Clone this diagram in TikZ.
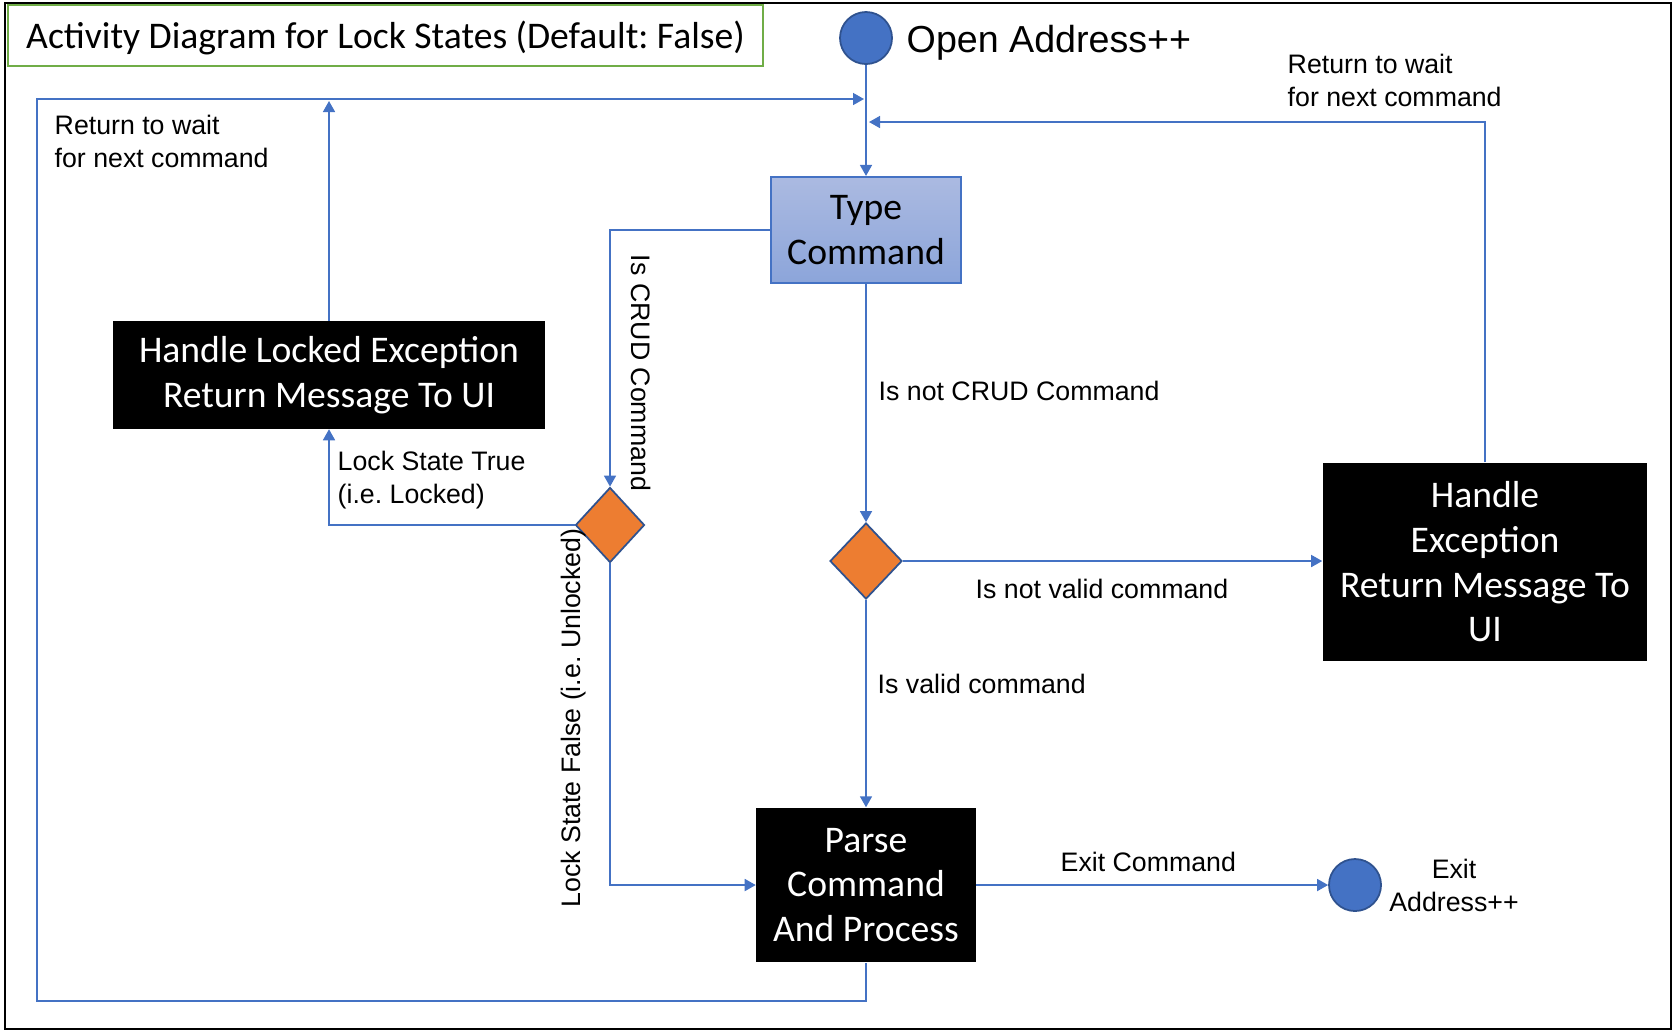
\documentclass[tikz,border=0pt]{standalone}
\usepackage{fontspec}
\setmainfont{Liberation Sans}
\newfontfamily\calibri{Carlito}
\usetikzlibrary{shapes.geometric,arrows.meta}
\definecolor{trait}{HTML}{4472C4}
\definecolor{bord}{HTML}{2F528F}
\definecolor{orange1}{HTML}{ED7D31}
\definecolor{vert1}{HTML}{70AD47}
\definecolor{bleuhaut}{HTML}{ABBAE1}
\definecolor{bleubas}{HTML}{8CA5DA}
\frenchspacing

\begin{document}
\begin{tikzpicture}[x=0.01cm, y=-0.01cm]
\tikzset{boite/.style={fill=black, text=white, inner sep=0pt, align=center, font=\calibri\fontsize{10.7}{12.7}\selectfont},
losange/.style={diamond, draw=bord, fill=orange1, line width=0.5pt, inner sep=0pt, minimum width=0.72cm, minimum height=0.76cm},
rond/.style={circle, draw=bord, fill=trait, line width=0.5pt, inner sep=0pt, minimum size=0.52cm},
etiq/.style={inner sep=0pt, align=left, font=\fontsize{7.6}{9.4}\selectfont},
fleche/.style={draw=trait, line width=0.45pt, -{Triangle[length=0.11cm, width=0.12cm]}}}
\useasboundingbox (0,0) rectangle (1674,1032);
\draw[line width=0.7pt] (5,3) rectangle (1671,1029);
\node[draw=vert1, line width=0.6pt, minimum width=7.55cm, minimum height=0.61cm, inner sep=0pt, text height=0.28cm, text depth=0.03cm, font=\calibri\fontsize{10.7}{12.7}\selectfont] (titre) at (385.5,35.5) {Activity Diagram for Lock States (Default: False)};
\node[rond] (debut) at (866,38) {};
\node[anchor=base west, inner sep=0pt, font=\fontsize{10.7}{12.8}\selectfont] (ouvrir) at (906,52) {Open Address++};
\node[draw=trait, line width=0.6pt, top color=bleuhaut, bottom color=bleubas, inner sep=0pt, minimum width=1.9cm, minimum height=1.06cm, align=center, font=\calibri\fontsize{10.7}{12.7}\selectfont] (saisie) at (866,230) {Type\\Command};
\node[boite, minimum width=4.32cm, minimum height=1.07cm] (exverrou) at (329,375) {Handle Locked Exception\\Return Message To UI};
\node[losange, minimum width=0.69cm, minimum height=0.75cm] (verrou) at (610,525) {};
\node[losange] (valide) at (866,561) {};
\node[boite, minimum width=3.24cm, minimum height=1.98cm] (excep) at (1485,562) {Handle\\Exception\\Return Message To\\UI};
\node[boite, minimum width=2.19cm, minimum height=1.54cm] (analyse) at (866,885) {Parse\\Command\\And Process};
\node[rond] (fin) at (1355,885) {};
\node[etiq, anchor=north west] (retourg) at (54,114) {Return to wait\\for next command};
\node[etiq, anchor=north west] (retourd) at (1287,53) {Return to wait\\for next command};
\node[etiq, anchor=base west] (noncrud) at (878,400) {Is not CRUD Command};
\node[etiq, rotate=-90] (crud) at (641,373) {Is CRUD Command};
\node[etiq, anchor=north west] (vrai) at (337,450) {Lock State True\\(i.e. Locked)};
\node[etiq, rotate=90] (faux) at (574,718) {Lock State False (i.e. Unlocked)};
\node[etiq, anchor=base west] (nonvalide) at (975,598) {Is not valid command};
\node[etiq, anchor=base west] (estvalide) at (877,693) {Is valid command};
\node[etiq, anchor=base west] (sortie) at (1060,871) {Exit Command};
\node[etiq, anchor=north, align=center] (quitter) at (1454,858) {Exit\\Address++};
\coordinate (m1) at (864,99);
\coordinate (m2) at (869,122);
\coordinate (g1) at (37,1001);
\coordinate (g2) at (37,99);
\coordinate (h1) at (329,101);
\draw[fleche] (debut) -- (saisie);
\draw[fleche] (saisie.west) -| (verrou.north);
\draw[fleche] (saisie) -- (valide);
\draw[fleche] (verrou.west) -| (exverrou.south);
\draw[fleche] (exverrou) -- (h1);
\draw[fleche] (verrou.south) |- (analyse.west);
\draw[fleche] (valide.east) -- (valide.east -| excep.west);
\draw[fleche] (valide) -- (analyse);
\draw[fleche] (excep.north) |- (m2);
\draw[fleche] (analyse) -- (fin);
\draw[fleche] (analyse.south) |- (g1) -- (g2) -- (m1);
\end{tikzpicture}
\end{document}
